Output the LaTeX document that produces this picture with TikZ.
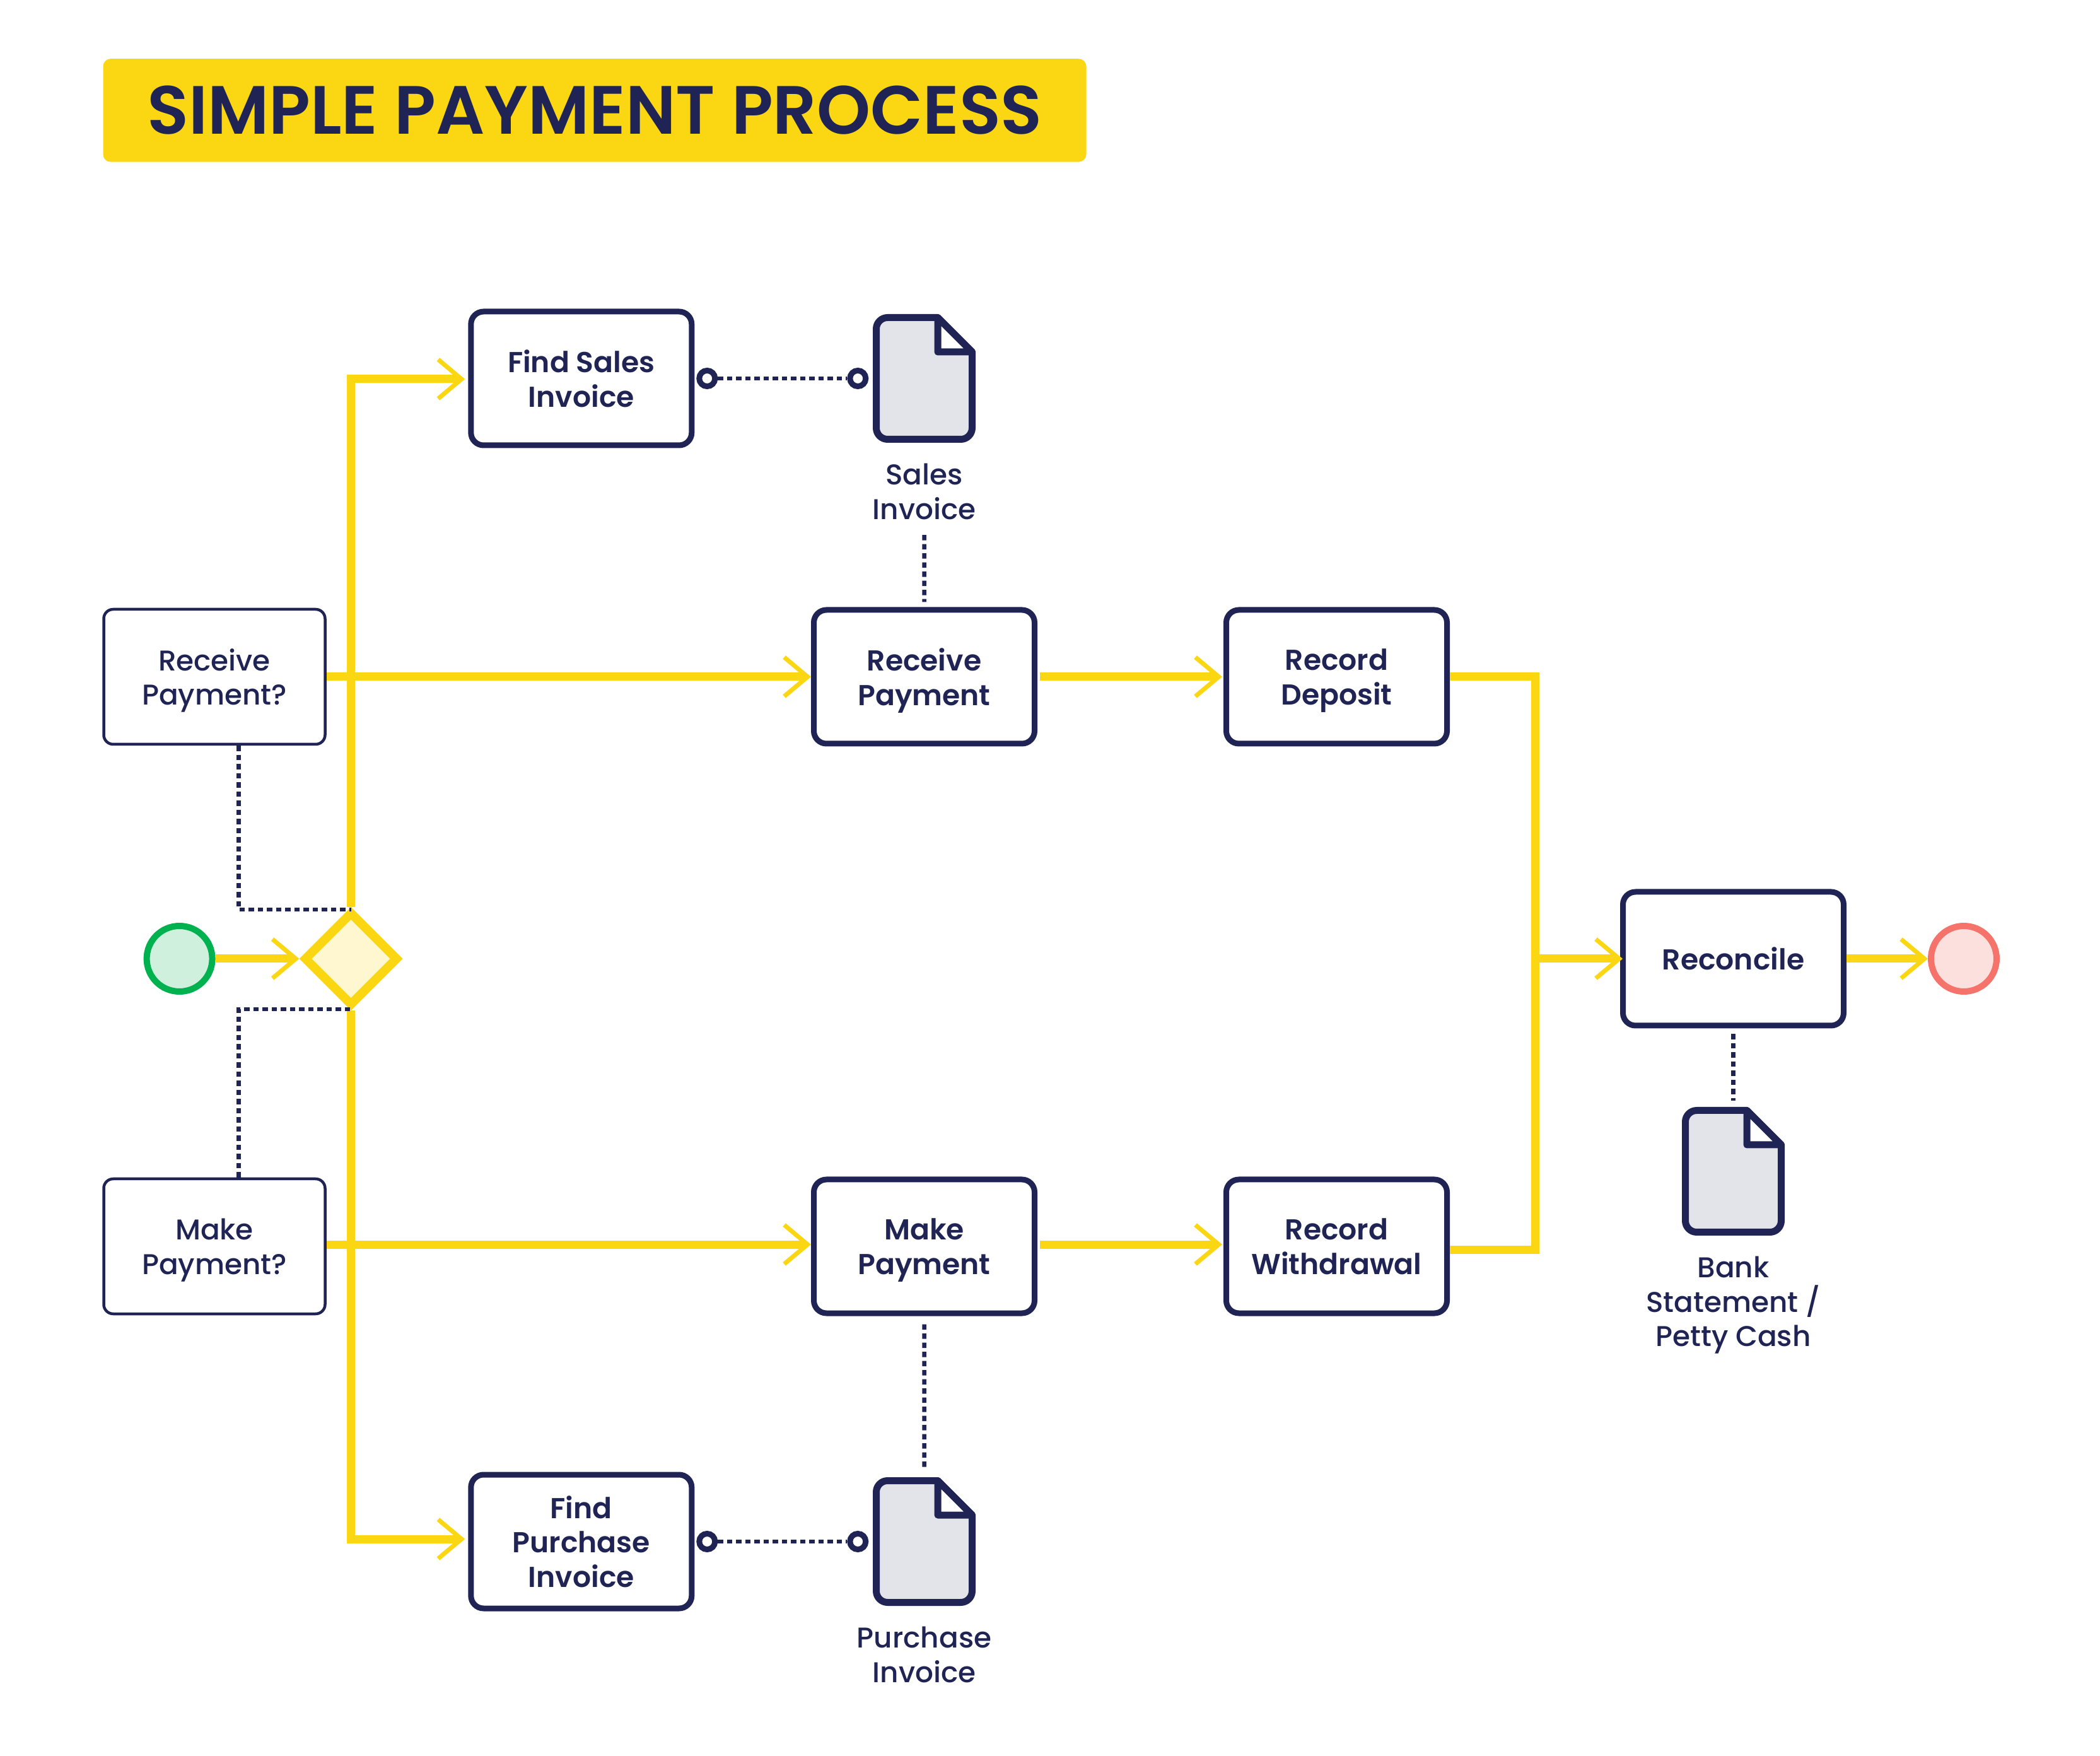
\documentclass[tikz,border=0pt]{standalone}
\usepackage{fontspec}
\setmainfont{Poppins}
\newfontfamily\semibold{Poppins}[UprightFont=* SemiBold]
\newfontfamily\medium{Poppins}[UprightFont=* Medium]
\usepackage{tikz}
\usetikzlibrary{shapes.geometric,arrows.meta,positioning}
\definecolor{navy}{HTML}{1F2454}
\definecolor{flowyellow}{HTML}{FBD713}
\definecolor{gatefill}{HTML}{FFF7CF}
\definecolor{docgray}{HTML}{E2E4E9}
\definecolor{startline}{HTML}{00B14F}
\definecolor{startfill}{HTML}{CEF0DC}
\definecolor{endline}{HTML}{F5736A}
\definecolor{endfill}{HTML}{FCE0DE}
\begin{document}
\begin{tikzpicture}[->, >={Straight Barb[length=.37cm,width=.62cm,line width=.07cm]},
  task/.style={draw=navy, line width=.09cm, rounded corners=.2cm, minimum width=3.5cm, minimum height=2.12cm, align=center, text=navy, inner sep=0, text depth=0pt, font=\semibold\fontsize{13}{15.5}\selectfont},
  cond/.style={task, line width=.045cm, rounded corners=.15cm, minimum width=3.51cm, minimum height=2.14cm, font=\medium\fontsize{12.9}{15.5}\selectfont},
  flow/.style={draw=flowyellow, line width=.13cm},
  assoc/.style={-, draw=navy, line width=.065cm, dash pattern=on .085cm off .06cm},
  pin/.style={circle, draw=navy, fill=white, line width=.09cm, minimum size=.25cm, inner sep=0},
  doclabel/.style={align=center, text=navy, inner sep=0, text depth=0pt, font=\medium\fontsize{12.9}{15.5}\selectfont},
  docicon/.style={minimum width=1.63cm, minimum height=2.04cm, inner sep=0, path picture={
    \draw[-, shift={(path picture bounding box.center)}, draw=navy, line width=.11cm, fill=docgray, line join=round]
      (.215,.965) [rounded corners=.18cm] -- (-.76,.965) -- (-.76,-.965) -- (.76,-.965) [sharp corners] -- (.76,.42) -- cycle;
    \draw[-, shift={(path picture bounding box.center)}, draw=navy, line width=.11cm, fill=white, line join=round]
      (.215,.965) -- (.215,.42) -- (.76,.42) -- cycle;
  }}]
\useasboundingbox (0,0) rectangle (33.3,-27.84);

\node[fill=flowyellow, rounded corners=.12cm, minimum width=15.59cm, minimum height=1.635cm, text=navy, font=\semibold\fontsize{30.8}{36}\selectfont] (title) at (9.43,-1.75) {SIMPLE PAYMENT PROCESS};

\node[cond] (askrp) at (3.4,-10.73) {Receive\\Payment?};
\node[cond, below of=askrp, node distance=9.03cm] (askmp) {Make\\Payment?};
\node[circle, draw=startline, fill=startfill, line width=.1cm, minimum size=1.04cm] (start) at (2.846,-15.2) {};
\node[diamond, draw=flowyellow, fill=gatefill, line width=.14cm, minimum size=1.5cm, inner sep=0] (gate) at (5.565,-15.2) {};

\node[task] (fs) at (9.218,-6) {Find Sales\\Invoice};
\node[task, below of=fs, node distance=18.44cm] (fp) {Find\\Purchase\\Invoice};
\node[task] (rp) at (14.655,-10.73) {Receive\\Payment};
\node[task, right of=rp, node distance=6.54cm] (rd) {Record\\Deposit};
\node[task, below of=rp, node distance=9.03cm] (mp) {Make\\Payment};
\node[task, right of=mp, node distance=6.54cm] (rw) {Record\\Withdrawal};
\node[task] (rc) at (27.485,-15.2) {Reconcile};
\node[circle, draw=endline, fill=endfill, line width=.1cm, minimum size=1.04cm] (end) at (31.14,-15.2) {};
\coordinate (merge) at (24.34,-15.2);

\node[docicon, right of=fs, node distance=5.437cm] (sdoc) {};
\node[docicon, right of=fp, node distance=5.437cm] (pdoc) {};
\node[docicon, below of=rc, node distance=3.37cm] (bdoc) {};
\node[doclabel, below=.32cm of sdoc] (slabel) {Sales\\Invoice};
\node[doclabel, below=.32cm of pdoc] (plabel) {Purchase\\Invoice};
\node[doclabel, below=.32cm of bdoc] (blabel) {Bank\\Statement /\\Petty Cash};
\node[pin, right=.03cm of fs] (fspin) {};
\node[pin, left=.06cm of sdoc] (sdocpin) {};
\node[pin, right=.03cm of fp] (fppin) {};
\node[pin, left=.06cm of pdoc] (pdocpin) {};

\draw[flow] (start) -- (gate);
\draw[flow, shorten >=.05cm] (gate.north) |- ([yshift=-.01cm]fs.west);
\draw[flow, shorten >=.05cm] (gate.south) |- ([yshift=.04cm]fp.west);
\draw[flow] (askrp) -- (rp);
\draw[flow] ([yshift=.03cm]askmp.east) -- ([yshift=.03cm]mp.west);
\draw[flow, shorten <=.04cm, shorten >=.02cm] (rp) -- (rd);
\draw[flow, shorten <=.04cm, shorten >=.02cm] ([yshift=.03cm]mp.east) -- ([yshift=.03cm]rw.west);
\draw[flow, -] (rd) -| (merge);
\draw[flow, -] ([yshift=-.05cm]rw.east) -| (merge);
\draw[flow, shorten >=-.04cm] (merge) -- (rc);
\draw[flow] (rc) -- (end);

\draw[assoc] (fspin) -- (sdocpin);
\draw[assoc] (fppin) -- (pdocpin);
\draw[assoc, shorten <=.24cm, shorten >=.08cm] (slabel) -- (rp);
\draw[assoc, shorten <=.13cm, shorten >=.15cm] (mp) -- (pdoc);
\draw[assoc, shorten <=.09cm, shorten >=.09cm] (rc) -- (bdoc);
\draw[assoc] ([xshift=.385cm]askrp.south) |- ([yshift=-.04cm]gate.north);
\draw[assoc] ([xshift=.385cm]askmp.north) |- ([yshift=.02cm]gate.south);
\end{tikzpicture}
\end{document}
